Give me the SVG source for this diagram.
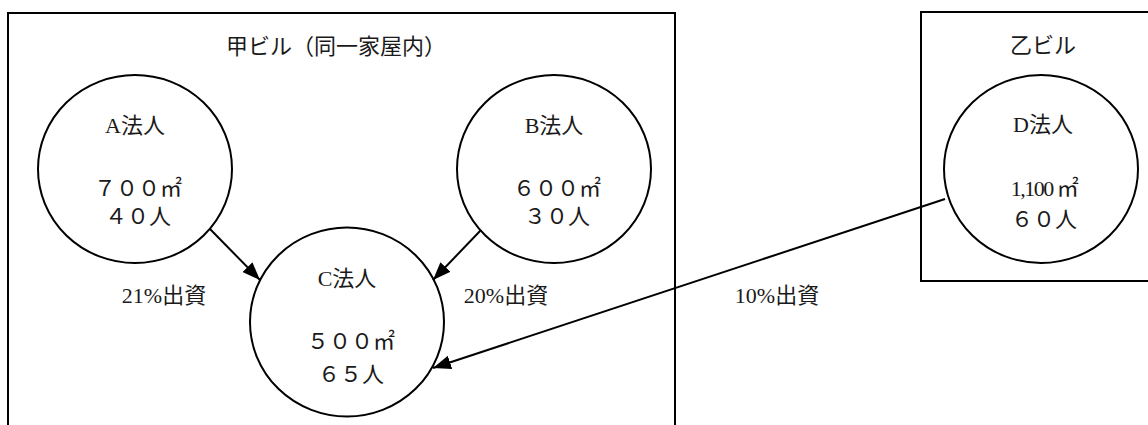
<svg xmlns="http://www.w3.org/2000/svg" width="1148" height="425" viewBox="0 0 1148 425">
<style>
.box{fill:none;stroke:#000;stroke-width:2}
.node{fill:#fff;stroke:#000;stroke-width:2}
.t{font-family:"Liberation Serif","Noto Sans CJK JP",serif;font-size:22px;fill:#1a1a1a;text-anchor:middle}
.lbl{font-family:"Liberation Serif","Noto Sans CJK JP",serif;font-size:22px;fill:#1a1a1a;text-anchor:middle}
.edge{stroke:#000;stroke-width:2;fill:none;marker-end:url(#ah)}
</style>
<defs>
<marker id="ah" markerUnits="userSpaceOnUse" markerWidth="20" markerHeight="14" refX="18" refY="7" orient="auto">
<path d="M0,0 L18,7 L0,14 Z" fill="#000"/>
</marker>
</defs>
<rect width="1148" height="425" fill="#fff"/>
<g id="bldg-kou">
<rect class="box" x="8" y="13" width="667" height="430"/>
<text class="t" x="336" y="54">甲ビル（同一家屋内）</text>
</g>
<g id="bldg-otsu">
<rect class="box" x="921" y="12" width="240" height="269"/>
<text class="t" x="1043" y="53">乙ビル</text>
</g>
<g id="node-a">
<ellipse class="node" cx="135" cy="169" rx="97" ry="94"/>
<text class="t" x="135" y="133">A法人</text>
<text class="t" x="138" y="196">７００㎡</text>
<text class="t" x="138" y="224">４０人</text>
</g>
<g id="node-b">
<ellipse class="node" cx="554" cy="169" rx="97" ry="94"/>
<text class="t" x="554" y="133">B法人</text>
<text class="t" x="557" y="196">６００㎡</text>
<text class="t" x="557" y="224">３０人</text>
</g>
<g id="node-c">
<ellipse class="node" cx="347" cy="322" rx="97" ry="94.5"/>
<text class="t" x="347" y="286">C法人</text>
<text class="t" x="351" y="349">５００㎡</text>
<text class="t" x="351" y="382">６５人</text>
</g>
<g id="node-d">
<ellipse class="node" cx="1041" cy="169" rx="97" ry="94"/>
<text class="t" x="1043" y="132">D法人</text>
<text class="t" x="1044" y="196" letter-spacing="-1.5">1,100 ㎡</text>
<text class="t" x="1044" y="227">６０人</text>
</g>
<g id="connectors">
<line class="edge" x1="210" y1="229" x2="260" y2="280"/>
<line class="edge" x1="481" y1="230" x2="433" y2="280"/>
<line class="edge" x1="945" y1="199" x2="433" y2="368"/>
<text class="lbl" x="164" y="303">21%出資</text>
<text class="lbl" x="506" y="303">20%出資</text>
<text class="lbl" x="777" y="303">10%出資</text>
</g>
</svg>
